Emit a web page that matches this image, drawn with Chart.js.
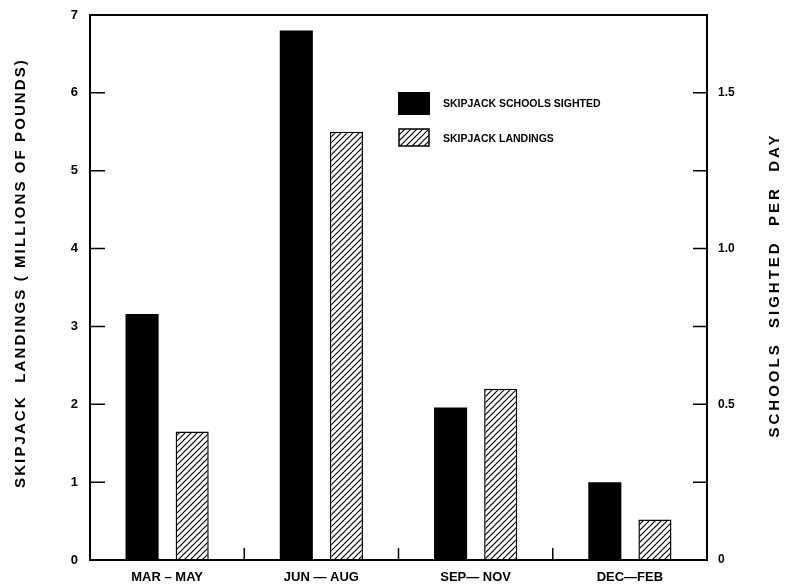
<!DOCTYPE html>
<html>
<head>
<meta charset="utf-8">
<script src="https://cdn.jsdelivr.net/npm/chart.js@4/dist/chart.umd.min.js"></script>
<style>
  html, body { margin: 0; padding: 0; background: #fff; }
  #wrap { width: 785px; height: 586px; }
</style>
</head>
<body>
<div id="wrap"><canvas id="c" width="785" height="586"></canvas></div>
<script>
// ---- data ----
const categories = ['MAR – MAY', 'JUN — AUG', 'SEP— NOV', 'DEC—FEB'];
const schoolsSighted = [0.79, 1.70, 0.49, 0.25];   // schools sighted per day (right axis)
const landings = [1.65, 5.50, 2.20, 0.52];         // millions of pounds (left axis)
const leftTicks = [0, 1, 2, 3, 4, 5, 6, 7];
const rightTickLabels = ['0', '0.5', '1.0', '1.5'];
const leftTitle = 'SKIPJACK  LANDINGS ( MILLIONS OF POUNDS)';
const rightTitle = 'SCHOOLS  SIGHTED  PER  DAY';
const seriesLabels = ['SKIPJACK SCHOOLS SIGHTED', 'SKIPJACK LANDINGS'];

// ---- hatch pattern ----
function makeHatch() {
  const s = 6;
  const c = document.createElement('canvas');
  c.width = s; c.height = s;
  const g = c.getContext('2d');
  g.fillStyle = '#fff';
  g.fillRect(0, 0, s, s);
  g.strokeStyle = '#000';
  g.lineWidth = 1.2;
  g.beginPath();
  g.moveTo(-1, s + 1); g.lineTo(s + 1, -1);
  g.moveTo(-1, 1); g.lineTo(1, -1);
  g.moveTo(s - 1, s + 1); g.lineTo(s + 1, s - 1);
  g.stroke();
  return g.createPattern(c, 'repeat');
}
const hatch = makeHatch();

const FONT = '"Liberation Sans", Arial, sans-serif';

const decor = {
  id: 'decor',
  afterDraw(chart) {
    const ctx = chart.ctx;
    const a = chart.chartArea;
    const y = chart.scales.y, y1 = chart.scales.y1, x = chart.scales.x;
    ctx.save();
    ctx.strokeStyle = '#000';
    ctx.lineWidth = 2;
    ctx.strokeRect(a.left, a.top, a.right - a.left, a.bottom - a.top);
    ctx.lineWidth = 1.5;
    ctx.beginPath();
    // left inward ticks
    y.ticks.forEach(t => {
      const py = y.getPixelForValue(t.value);
      ctx.moveTo(a.left, py); ctx.lineTo(a.left + 15, py);
    });
    // right inward ticks
    y1.ticks.forEach(t => {
      const py = y1.getPixelForValue(t.value);
      ctx.moveTo(a.right, py); ctx.lineTo(a.right - 14, py);
    });
    // bottom ticks between categories
    for (let i = 0; i < categories.length - 1; i++) {
      const px = (x.getPixelForValue(i) + x.getPixelForValue(i + 1)) / 2;
      ctx.moveTo(px, a.bottom); ctx.lineTo(px, a.bottom - 12);
    }
    ctx.stroke();

    // axis titles (both read bottom-to-top)
    ctx.fillStyle = '#000';
    ctx.textAlign = 'center';
    ctx.textBaseline = 'middle';
    ctx.font = 'bold 15px ' + FONT;
    ctx.letterSpacing = '2.1px';
    ctx.save();
    ctx.translate(21, 273);
    ctx.rotate(-Math.PI / 2);
    ctx.fillText(leftTitle, 0, 0);
    ctx.restore();
    ctx.font = 'bold 15px ' + FONT;
    ctx.letterSpacing = '3.0px';
    ctx.save();
    ctx.translate(775, 285);
    ctx.rotate(-Math.PI / 2);
    ctx.fillText(rightTitle, 0, 0);
    ctx.restore();

    // legend
    ctx.letterSpacing = '0px';
    ctx.font = 'bold 10.5px ' + FONT;
    ctx.textAlign = 'left';
    const ds = chart.data.datasets;
    ctx.fillStyle = ds[0].backgroundColor;
    ctx.fillRect(398, 92, 32, 23);
    ctx.fillStyle = ds[1].backgroundColor;
    ctx.fillRect(399, 129, 30, 17);
    ctx.lineWidth = 1.5;
    ctx.strokeRect(399, 129, 30, 17);
    ctx.fillStyle = '#000';
    ctx.fillText(ds[0].label, 443, 104);
    ctx.fillText(ds[1].label, 443, 139);
    ctx.restore();
  }
};

function noPad(s) { s.paddingTop = 0; s.paddingBottom = 0; }

new Chart(document.getElementById('c'), {
  type: 'bar',
  data: {
    labels: categories,
    datasets: [
      { label: seriesLabels[0], data: schoolsSighted, yAxisID: 'y1',
        backgroundColor: '#000', borderColor: '#000', borderWidth: 0 },
      { label: seriesLabels[1], data: landings, yAxisID: 'y',
        backgroundColor: hatch, borderColor: '#000', borderWidth: 1.5 }
    ]
  },
  options: {
    responsive: false,
    animation: false,
    devicePixelRatio: 1,
    layout: { padding: { top: 15, left: 0, right: 0, bottom: 0 } },
    datasets: { bar: { categoryPercentage: 0.65, barPercentage: 0.66 } },
    plugins: { legend: { display: false }, tooltip: { enabled: false } },
    scales: {
      x: {
        grid: { display: false, drawTicks: false },
        border: { display: false },
        ticks: { color: '#000', padding: 10, maxRotation: 0,
                 font: { family: FONT, size: 13, weight: 'bold' } },
        afterFit(s) { s.height = 26; s.paddingLeft = 0; s.paddingRight = 0; }
      },
      y: {
        position: 'left', min: leftTicks[0], max: leftTicks[leftTicks.length - 1],
        grid: { display: false, drawTicks: false },
        border: { display: false },
        ticks: { stepSize: 1, color: '#000', padding: 12,
                 font: { family: FONT, size: 13, weight: 'bold' } },
        afterFit(s) { s.width = 90; noPad(s); }
      },
      y1: {
        position: 'right', min: 0, max: 1.75,
        grid: { display: false, drawTicks: false },
        border: { display: false },
        ticks: { stepSize: 0.25, color: '#000', padding: 11,
                 font: { family: FONT, size: 12, weight: 'bold' },
                 callback(v) {
                   const i = Math.round(v / 0.5);
                   return Math.abs(v - i * 0.5) < 1e-9 ? rightTickLabels[i] || '' : '';
                 } },
        afterFit(s) { s.width = 78; noPad(s); }
      }
    }
  },
  plugins: [decor]
});
</script>
</body>
</html>
